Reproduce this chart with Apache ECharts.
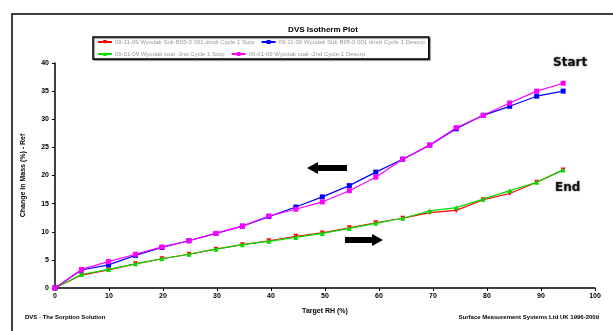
<!DOCTYPE html>
<html>
<head>
<meta charset="utf-8" />
<title>DVS Isotherm Plot</title>
<style>
  html, body { margin: 0; padding: 0; background: #fff; }
  #chartBox { width: 613px; height: 331px; }
</style>
</head>
<body>
<div id="chartBox"></div>
<script src="https://cdn.jsdelivr.net/npm/echarts@6/dist/echarts.min.js"></script>
<script>
// target RH (%) of each step
var rhSteps = [0, 4.9, 9.9, 14.9, 19.8, 24.8, 29.8, 34.7, 39.6, 44.6, 49.5, 54.5, 59.4, 64.4, 69.4, 74.3, 79.3, 84.2, 89.2, 94.1];
// change in mass (%) - ref
var subSorp     = [0, 2.3, 3.2, 4.3, 5.2, 6.0, 6.9, 7.7, 8.4, 9.2, 9.8, 10.7, 11.6, 12.4, 13.4, 13.8, 15.7, 16.8, 18.8, 21.0];
var subDesorp   = [0, 3.2, 4.1, 5.8, 7.2, 8.4, 9.7, 11.0, 12.7, 14.4, 16.2, 18.2, 20.6, 22.9, 25.4, 28.3, 30.7, 32.3, 34.1, 35.0];
var coalSorp    = [0, 2.4, 3.3, 4.3, 5.2, 6.0, 6.9, 7.7, 8.3, 9.0, 9.7, 10.6, 11.5, 12.4, 13.7, 14.3, 15.8, 17.3, 18.8, 21.0];
var coalDesorp  = [0, 3.3, 4.7, 6.0, 7.3, 8.4, 9.7, 11.0, 12.8, 14.0, 15.3, 17.3, 19.7, 22.9, 25.4, 28.5, 30.7, 32.9, 35.0, 36.4];

var seriesNames = [
  '09-11-09 Wyodak Sub B95-0 001 dmdt Cycle 1 Sorp',
  '09-11-09 Wyodak Sub B95-0 001 dmdt Cycle 1 Desorp',
  '09-01-09 Wyodak coal -2nd Cycle 1 Sorp',
  '09-01-09 Wyodak coal -2nd Cycle 1 Desorp'
];
var colors = ['#ff0000', '#0000ff', '#00dd00', '#ff00ff'];
var symbols = ['triangle', 'rect', 'triangle', 'rect'];
var rotates = [180, 0, 0, 0];

function pairUp(xs, ys) {
  var out = [];
  for (var i = 0; i < xs.length; i++) out.push([xs[i], ys[i]]);
  return out;
}

var _font = 'Liberation Sans';
var allValues = [subSorp, subDesorp, coalSorp, coalDesorp];
var series = [];
for (var k = 0; k < seriesNames.length; k++) {
  series.push({
    name: seriesNames[k],
    type: 'line',
    data: pairUp(rhSteps, allValues[k]),
    symbol: symbols[k],
    symbolSize: 5,
    symbolRotate: rotates[k],
    lineStyle: { color: colors[k], width: 1.2 },
    itemStyle: { color: colors[k] },
    z: 2 + k
  });
}

var myChart = echarts.init(document.getElementById('chartBox'));
myChart.setOption({
  animation: false,
  color: colors,
  title: {
    text: 'DVS Isotherm Plot',
    left: 318, top: 21, textAlign: 'center',
    textStyle: { fontFamily: _font, fontSize: 8, fontWeight: 'bold', color: '#000' }
  },
  legend: {
    left: 93, top: 37, width: 340,
    orient: 'horizontal',
    padding: [2, 4, 2, 4],
    itemGap: 6,
    itemWidth: 14, itemHeight: 5,
    borderColor: '#000', borderWidth: 1.5,
    backgroundColor: '#fff',
    shadowColor: 'rgba(0,0,0,0.5)', shadowOffsetX: 1, shadowOffsetY: 1, shadowBlur: 1,
    data: seriesNames,
    textStyle: { fontFamily: _font, fontSize: 6, color: '#999', width: 148, overflow: 'truncate', padding: [0, 0, 0, -2] }
  },
  grid: { left: 55, right: 18, top: 63, bottom: 43 },
  xAxis: {
    type: 'value', min: 0, max: 100, interval: 10,
    name: 'Target RH (%)', nameLocation: 'middle', nameGap: 20,
    nameTextStyle: { fontFamily: _font, fontSize: 7, fontWeight: 'bold', color: '#000' },
    axisLine: { lineStyle: { color: '#000', width: 1.5 } },
    axisTick: { length: 3, lineStyle: { color: '#000' } },
    axisLabel: { fontFamily: _font, fontSize: 7, fontWeight: 'bold', color: '#000', margin: 5 },
    splitLine: { show: false }
  },
  yAxis: {
    type: 'value', min: 0, max: 40, interval: 5,
    name: 'Change In Mass (%) - Ref', nameLocation: 'middle', nameGap: 28,
    nameTextStyle: { fontFamily: _font, fontSize: 7, fontWeight: 'bold', color: '#000' },
    axisLine: { show: true, lineStyle: { color: '#000', width: 1.5 } },
    axisTick: { show: true, length: 3, lineStyle: { color: '#000' } },
    axisLabel: { fontFamily: _font, fontSize: 7, fontWeight: 'bold', color: '#000', margin: 6 },
    splitLine: { show: false }
  },
  graphic: [
    { type: 'rect', shape: { x: 12, y: 14, width: 640, height: 360 }, style: { fill: 'none', stroke: '#000', lineWidth: 1.5 }, z: -1 },
    { type: 'text', left: 553, top: 57, style: { text: 'Start', font: 'bold 12px "DejaVu Sans"', fill: '#111', textShadowColor: 'rgba(0,0,0,0.6)', textShadowBlur: 2 }, z: 10 },
    { type: 'text', left: 555, top: 182, style: { text: 'End', font: 'bold 12px "DejaVu Sans"', fill: '#111', textShadowColor: 'rgba(0,0,0,0.6)', textShadowBlur: 2 }, z: 10 },
    { type: 'polygon', shape: { points: [[307, 168], [318, 162], [318, 165], [347, 165], [347, 171], [318, 171], [318, 174]] }, style: { fill: '#000' }, z: 10 },
    { type: 'polygon', shape: { points: [[383, 240], [372, 234], [372, 237], [345, 237], [345, 243], [372, 243], [372, 246]] }, style: { fill: '#000' }, z: 10 },
    { type: 'text', left: 25, top: 314, style: { text: 'DVS - The Sorption Solution', font: 'bold 6px "Liberation Sans"', fill: '#000' } },
    { type: 'text', right: 14, top: 314, style: { text: 'Surface Measurement Systems Ltd UK 1996-2009', font: 'bold 6px "Liberation Sans"', fill: '#000' } }
  ],
  series: series
});
</script>
</body>
</html>
